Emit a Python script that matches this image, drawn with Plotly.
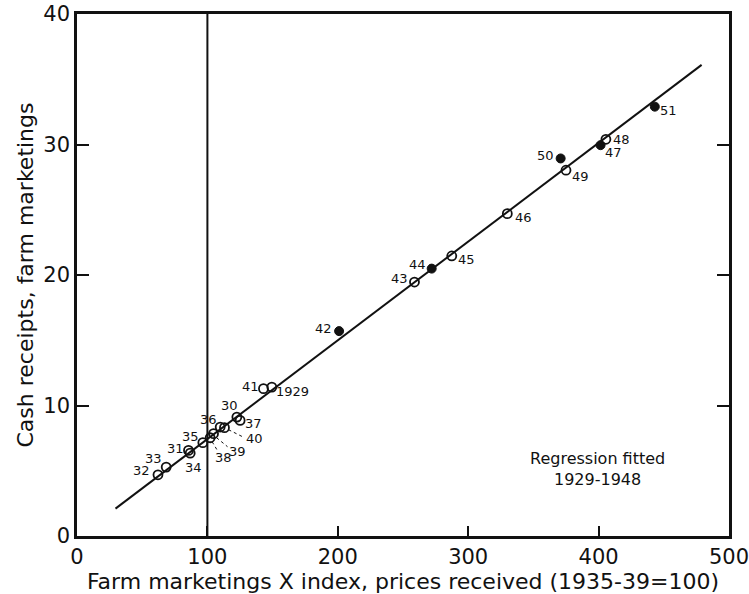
import plotly.graph_objects as go

# ---- data ----
year_labels = ['1929', '30', '31', '32', '33', '34', '35', '36', '37', '38', '39', '40',
               '41', '42', '43', '44', '45', '46', '47', '48', '49', '50', '51']
index_x = [149.4, 122.6, 85.5, 62.1, 68.4, 86.8, 96.5, 109.8, 125.1, 102.1, 104.7, 113.1,
           143.0, 201.0, 258.8, 272.0, 287.4, 330.0, 401.5, 405.6, 375.0, 370.9, 443.1]
receipts_y = [11.41, 9.11, 6.56, 4.69, 5.28, 6.35, 7.15, 8.35, 8.86, 7.53, 7.84, 8.30,
              11.29, 15.7, 19.46, 20.49, 21.46, 24.7, 29.95, 30.4, 28.03, 28.93, 32.9]
filled_years = ['42', '44', '47', '50', '51']

fit_x = [29.5, 479.0]
fit_y = [2.1, 36.1]

x_ticks = [0, 100, 200, 300, 400, 500]
y_ticks = [0, 10, 20, 30, 40]

# ---- label placement (pixel offsets) ----
label_offsets = {
    '1929': (21, -4), '30': (-7, 12), '31': (-13, 2), '32': (-16, 4), '33': (-13, 9),
    '34': (3, -14), '35': (-12, 6), '36': (-12, 8), '37': (13, -3), '38': (13, -20),
    '39': (24, -18), '40': (30, -11), '41': (-13, 2), '42': (-16, 3), '43': (-15, 4),
    '44': (-14, 4), '45': (15, -4), '46': (16, -4), '47': (13, -7), '48': (16, 0),
    '49': (14, -6), '50': (-15, 3), '51': (14, -4),
}
leaders = {'38': (2, -4, 8, -14), '39': (3, -4, 14, -13), '40': (4, -2, 18, -9)}

FONT = "DejaVu Sans"
INK = "#111111"

fig = go.Figure()

fig.add_trace(go.Scatter(x=fit_x, y=fit_y, mode='lines',
                         line=dict(color=INK, width=2), hoverinfo='skip'))

open_x = [x for x, l in zip(index_x, year_labels) if l not in filled_years]
open_y = [y for y, l in zip(receipts_y, year_labels) if l not in filled_years]
fill_x = [x for x, l in zip(index_x, year_labels) if l in filled_years]
fill_y = [y for y, l in zip(receipts_y, year_labels) if l in filled_years]

fig.add_trace(go.Scatter(x=open_x, y=open_y, mode='markers',
                         marker=dict(symbol='circle-open', size=9, color=INK,
                                     line=dict(width=1.8, color=INK))))
fig.add_trace(go.Scatter(x=fill_x, y=fill_y, mode='markers',
                         marker=dict(symbol='circle', size=9, color=INK,
                                     line=dict(width=1, color=INK))))

for lab, x, y in zip(year_labels, index_x, receipts_y):
    dx, dy = label_offsets[lab]
    fig.add_annotation(x=x, y=y, text=lab, showarrow=False, xshift=dx, yshift=dy,
                       font=dict(family=FONT, size=13, color=INK))
    if lab in leaders:
        x0, y0, x1, y1 = leaders[lab]
        fig.add_shape(type='line', xref='x', yref='y', xsizemode='pixel',
                      ysizemode='pixel', xanchor=x, yanchor=y,
                      x0=x0, y0=y0, x1=x1, y1=y1,
                      line=dict(color=INK, width=1, dash='dot'))

# vertical reference line at index = 100
fig.add_shape(type='line', xref='x', yref='paper', x0=100, x1=100, y0=0, y1=1,
              line=dict(color=INK, width=2))

fig.add_annotation(x=0.799, y=0.128, xref='paper', yref='paper',
                   xanchor='center', yanchor='middle',
                   text='Regression fitted<br>1929-1948', showarrow=False,
                   font=dict(family=FONT, size=16, color=INK), align='center')

fig.update_layout(
    width=749, height=594,
    margin=dict(l=77, r=20, t=14, b=58),
    paper_bgcolor='white', plot_bgcolor='white',
    showlegend=False,
    font=dict(family=FONT, color=INK),
)
fig.update_xaxes(range=[0, 500], tickvals=x_ticks, ticks='inside', ticklen=10,
                 tickwidth=2, tickcolor=INK, showgrid=False, zeroline=False,
                 showline=True, linewidth=2.5, linecolor=INK, mirror=True,
                 automargin=False, ticklabeloverflow='allow',
                 tickfont=dict(family=FONT, size=21, color=INK),
                 title=dict(text='Farm marketings X index, prices received (1935-39=100)',
                            font=dict(family=FONT, size=22, color=INK), standoff=0))
fig.update_yaxes(range=[0, 40], tickvals=y_ticks, ticks='inside', ticklen=12,
                 tickwidth=2, tickcolor=INK, showgrid=False, zeroline=False,
                 showline=True, linewidth=2.5, linecolor=INK, mirror='allticks',
                 automargin=False, ticklabeloverflow='allow',
                 tickfont=dict(family=FONT, size=21, color=INK),
                 title=dict(text='Cash receipts, farm marketings',
                            font=dict(family=FONT, size=22, color=INK), standoff=4))

fig.write_html("out.html")
